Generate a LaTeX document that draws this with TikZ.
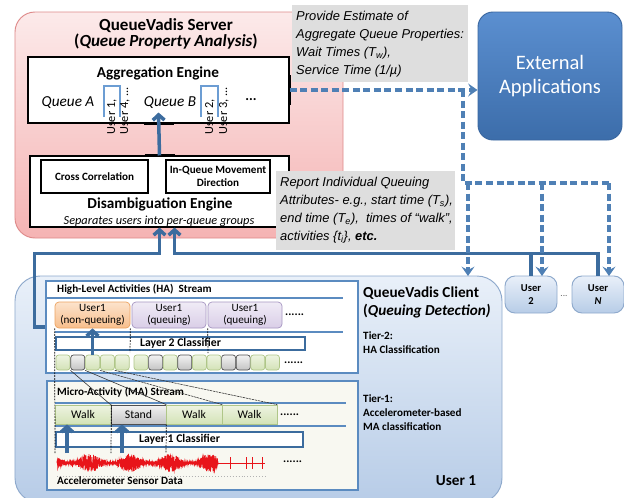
\documentclass[tikz,border=0pt]{standalone}
\usepackage{fontspec}
\setmainfont{Carlito}
\newfontfamily\notefont{Liberation Sans}
\usetikzlibrary{arrows.meta}

\definecolor{qvBlue}{HTML}{3C6C9E}
\definecolor{qvDash}{HTML}{4F80B5}
\definecolor{qvLine}{HTML}{5B8BC0}
\definecolor{qvBracket}{HTML}{6C9DD3}
\definecolor{srvTop}{HTML}{FCEAEA}
\definecolor{srvBot}{HTML}{F5B3B3}
\definecolor{srvEdge}{HTML}{DE8A8A}
\definecolor{cliTop}{HTML}{E9F0F9}
\definecolor{cliBot}{HTML}{B7CCE7}
\definecolor{cliEdge}{HTML}{8EA9CC}
\definecolor{extTop}{HTML}{5B8FD0}
\definecolor{extBot}{HTML}{3C6DAA}
\definecolor{extEdge}{HTML}{3A67A0}
\definecolor{noteGray}{HTML}{DEDEDE}
\definecolor{walkTop}{HTML}{EEF4E2}
\definecolor{walkBot}{HTML}{D3E2B6}
\definecolor{walkEdge}{HTML}{AFC688}
\definecolor{stndTop}{HTML}{F2F2F2}
\definecolor{stndBot}{HTML}{C4C4C4}
\definecolor{stndEdge}{HTML}{505050}
\definecolor{nqTop}{HTML}{FCE3CC}
\definecolor{nqBot}{HTML}{F7BE8C}
\definecolor{nqEdge}{HTML}{EDA462}
\definecolor{qTop}{HTML}{F0EBF6}
\definecolor{qBot}{HTML}{D9CEE7}
\definecolor{qEdge}{HTML}{A797C2}
\definecolor{maFill}{HTML}{F8F8F1}
\definecolor{sigRed}{HTML}{E8141A}

\newcommand{\qbox}[7]{
	\pgfmathsetmacro{\QBw}{(#5-#3)*0.03}
	\pgfmathsetmacro{\QBh}{(#6-#4)*0.03}
	\node[#2, minimum width=\QBw cm, minimum height=\QBh cm] (#1) at ({(#3+#5)/2}, {(#4+#6)/2}) {#7};
}

\begin{document}
\begin{tikzpicture}[x=0.03cm, y=-0.03cm,
	srvbox/.style={draw=srvEdge, line width=0.8pt, rounded corners=0.6cm, top color=srvTop, bottom color=srvBot},
	enginebox/.style={draw=black, line width=0.9pt, fill=white, inner sep=0pt},
	subbox/.style={draw=black, line width=1.1pt, fill=white, inner sep=0pt, align=center, font=\bfseries\fontsize{9.5}{11}\selectfont},
	notebox/.style={fill=noteGray, inner sep=0pt},
	notetext/.style={anchor=north west, inner sep=0pt, align=left, font=\notefont\itshape\fontsize{11}{15.4}\selectfont},
	extbox/.style={draw=extEdge, line width=0.8pt, rounded corners=0.45cm, top color=extTop, bottom color=extBot, text=white, align=center, font=\fontsize{17.5}{21}\selectfont},
	clibox/.style={draw=cliEdge, line width=0.8pt, rounded corners=0.75cm, top color=cliTop, bottom color=cliBot},
	userbox/.style={draw=cliEdge, line width=0.8pt, rounded corners=0.3cm, top color=cliTop, bottom color=cliBot, inner sep=0pt, align=center, font=\bfseries\fontsize{9}{11}\selectfont},
	hapanel/.style={draw=qvLine, line width=1pt, fill=white},
	mapanel/.style={draw=qvLine, line width=1pt, fill=maFill},
	nqbox/.style={draw=nqEdge, line width=0.6pt, rounded corners=0.12cm, top color=nqTop, bottom color=nqBot, inner sep=0pt, align=center, font=\fontsize{9.5}{10}\selectfont},
	queuingbox/.style={draw=qEdge, line width=0.6pt, rounded corners=0.12cm, top color=qTop, bottom color=qBot, inner sep=0pt, align=center, font=\fontsize{9.5}{10}\selectfont},
	walkbox/.style={draw=walkEdge, line width=0.6pt, top color=walkTop, bottom color=walkBot, inner sep=0pt, font=\fontsize{10}{12}\selectfont},
	stndbox/.style={draw=stndEdge, line width=0.6pt, top color=stndTop, bottom color=stndBot, inner sep=0pt, font=\fontsize{10}{12}\selectfont},
	classbox/.style={draw=qvBlue, line width=1.6pt, fill=white, inner sep=0pt, font=\bfseries\fontsize{10}{12}\selectfont},
	sqbox/.style={line width=0.6pt, rounded corners=0.08cm, inner sep=0pt},
	streamline/.style={qvLine, line width=1.6pt},
	qvarrow/.style={qvBlue, line width=3pt, -{Straight Barb[length=4.5pt, width=10pt]}},
	qvline/.style={qvBlue, line width=3pt},
	qvdash/.style={qvDash, line width=2.7pt, dash pattern=on 6pt off 3pt},
	qvdasharrow/.style={qvdash, -{Stealth[length=8pt, width=11pt, inset=3pt]}},
	glue/.style={black, line width=2pt},
	bracket/.style={qvBracket, line width=1.3pt},
	guide/.style={black, line width=0.6pt, dash pattern=on 1.5pt off 1pt},
	link/.style={black!80, line width=0.5pt},
	ttl/.style={align=center, font=\bfseries\fontsize{14.5}{14}\selectfont},
	engttl/.style={font=\bfseries\fontsize{13}{14}\selectfont},
	queuelbl/.style={font=\itshape\fontsize{13}{14}\selectfont},
	userlbl/.style={rotate=90, anchor=west, inner sep=0pt, font=\fontsize{10.5}{11}\selectfont},
	streamttl/.style={anchor=west, inner sep=0pt, font=\bfseries\fontsize{9.5}{11}\selectfont},
	dotslbl/.style={anchor=west, inner sep=0pt, font=\bfseries\fontsize{10}{12}\selectfont},
	lbl/.style={anchor=west, inner sep=0pt, font=\bfseries\fontsize{9.5}{11}\selectfont},
	clittl/.style={anchor=west, inner sep=0pt, font=\bfseries\fontsize{13}{14}\selectfont}]
\useasboundingbox (0,0) rectangle (624,497);

\qbox{srv}{srvbox}{15}{12}{343}{238}{}
\node[ttl] (srvttl) at (166,34) {QueueVadis Server\\(\textit{Queue Property Analysis})};

\qbox{agg}{enginebox}{28}{57}{289}{123}{}
\node[engttl] (aggttl) at (158,73) {Aggregation Engine};
\node[queuelbl] (qa) at (68,103) {Queue A};
\node[queuelbl] (qb) at (170,103) {Queue B};
\draw[bracket] (104,117) -- (104,86) -- (120,86) -- (120,117);
\draw[bracket] (201,117) -- (201,86) -- (218,86) -- (218,117);
\node[userlbl] (ua1) at (112,135) {User 1,};
\node[userlbl] (ua2) at (125,135) {User 4, ...};
\node[userlbl] (ub1) at (210,135) {User 2,};
\node[userlbl] (ub2) at (224,135) {User 3, ...};
\node[font=\bfseries\fontsize{12}{12}\selectfont] (qdots) at (251,100) {...};

\qbox{dis}{enginebox}{30}{156}{289}{227}{}
\qbox{cc}{subbox}{41}{160}{148}{193}{Cross Correlation}
\qbox{iqm}{subbox}{166}{160}{270}{193}{In-Queue Movement\\Direction}
\node[engttl] (disttl) at (160,204) {Disambiguation Engine};
\node[font=\itshape\fontsize{10.5}{12}\selectfont] (dissub) at (159,221) {Separates users into per-queue groups};

\draw[glue] ([xshift=-0.45cm]agg.south) -- ([xshift=0.45cm]agg.south);
\draw[glue] ([xshift=-0.45cm]dis.north) -- ([xshift=0.45cm]dis.north);
\draw[qvarrow] (dis.north) -- ([yshift=0.33cm]agg.south);
\draw[glue] ([yshift=0.45cm]agg.east) -- ([yshift=-0.45cm]agg.east);

\qbox{est}{notebox}{292}{5}{468}{82}{}
\node[notetext] (esttxt) at (296,11) {Provide Estimate of\\Aggregate Queue Properties:\\Wait Times (T\textsubscript{w}),\\Service Time (1/µ)};
\qbox{rep}{notebox}{276}{171}{455}{250}{}
\node[notetext] (reptxt) at (280,177) {Report Individual Queuing\\Attributes- e.g., start time (T\textsubscript{s}),\\end time (T\textsubscript{e}),~ times of “walk”,\\activities \{t\textsubscript{i}\}, \textbf{etc.}};

\qbox{ext}{extbox}{478}{12}{622}{140}{External\\Applications}

\qbox{cli}{clibox}{15}{276}{502}{503}{}

\qbox{ha}{hapanel}{46}{281}{358}{373}{}
\node[streamttl] (hattl) at (57,289) {High-Level Activities (HA)~ Stream};
\draw[streamline] (46,298) -- (343,298);
\qbox{hu1}{nqbox}{55}{302}{130}{328}{User1\\(non-queuing)}
\qbox{hu2}{queuingbox}{132}{302}{206}{328}{User1\\(queuing)}
\qbox{hu3}{queuingbox}{208}{302}{282}{328}{User1\\(queuing)}
\node[dotslbl] (hudots) at (285,315) {......};
\draw[streamline] (55,332) -- (343,332);
\qbox{l2}{classbox}{56}{337}{305}{350}{Layer 2 Classifier}
\foreach \sx/\sc [count=\k] in {56/walk,70.8/stnd,85.6/walk,100.4/walk,115.2/walk,134/walk,148.6/stnd,163.2/walk,177.8/stnd,192.4/walk,207/walk,221.6/stnd,236.2/stnd,250.8/walk,265.4/walk}{
	\qbox{sq\k}{sqbox, draw=\sc Edge, top color=\sc Top, bottom color=\sc Bot}{\sx}{355}{\sx+14}{370}{}
}
\node[dotslbl] (sqdots) at (284,363) {......};
\draw[qvarrow] (sq3.north -| hu1.south) -- (hu1.south);

\qbox{ma}{mapanel}{47}{381}{358}{490}{}
\node[streamttl] (mattl) at (57,392) {Micro-Activity (MA) Stream};
\draw[streamline] (55,403) -- (346,403);
\qbox{w1}{walkbox}{55}{405}{111}{424}{Walk}
\qbox{w2}{stndbox}{111}{405}{166}{424}{Stand}
\qbox{w3}{walkbox}{166}{405}{222}{424}{Walk}
\qbox{w4}{walkbox}{222}{405}{277}{424}{Walk}
\node[dotslbl] (wdots) at (280,415) {......};
\draw[streamline] (55,426) -- (346,426);
\qbox{l1}{classbox}{56}{432}{303}{447}{Layer 1 Classifier}

\draw[guide] (hu1.south west) -- (55,453);
\draw[guide] (hu1.south east) -- (130,352);
\draw[guide] (hu3.south west) -- (208,353);
\draw[guide] (w1.north east) -- (111,453);
\draw[guide] (w2.south east) -- (166,453);
\draw[link] (sq2.south west) -- (w2.north west);
\draw[link] (sq2.south east) -- (w2.north east);
\draw[link, dash pattern=on 2pt off 0.6pt] (sq3.south east) -- (w3.north east);
\draw[link, dash pattern=on 2pt off 0.6pt] (sq4.south east) -- (w4.north east);

\pgfmathsetseed{11}
\draw[sigRed, line width=0.6pt] plot[domain=57:218, samples=1400] (\x, {463 + (5+4*sin(\x*9))*rand});
\draw[sigRed, line width=0.5pt] (218,463) -- (265,463);
\foreach \spk in {230,246,252,262}{
	\draw[sigRed, line width=0.5pt] (\spk,457) -- (\spk,469);
}
\draw[black!30, line width=0.3pt, dash pattern=on 0.5pt off 2pt] (57,476) -- (265,476);
\node[dotslbl] (sigdots) at (283,462) {......};
\coordinate (sa) at (67,453);
\coordinate (sb) at (122,453);
\draw[qvarrow] (sa) -- (sa |- w1.south);
\draw[qvarrow] (sb) -- (sb |- w2.south);
\node[lbl] (acc) at (57,481) {Accelerometer Sensor Data};

\node[clittl] (clittl) at (363,293) {QueueVadis Client};
\node[clittl] (clisub) at (363,311) {(\textit{Queuing Detection)}};
\node[lbl, align=left, font=\bfseries\fontsize{9.5}{12}\selectfont] (tier2) at (363,343) {Tier-2:\\HA Classification};
\node[lbl, align=left, font=\bfseries\fontsize{9.5}{12}\selectfont] (tier1) at (363,413) {Tier-1:\\Accelerometer-based\\MA classification};
\node[font=\bfseries\fontsize{13}{14}\selectfont] (u1lbl) at (456,481) {User 1};

\qbox{usr2}{userbox}{505}{276}{557}{313}{User\\2}
\qbox{usrN}{userbox}{572}{276}{624}{313}{User\\\textit{N}}
\node[font=\fontsize{8}{8}\selectfont, text=black!60] (udots) at (564,296) {...};

\draw[qvarrow] (ha.west) -- ++(-11,0) |- ([yshift=-0.78cm]dis.south) -- (dis.south);
\draw[qvarrow] (usrN.north) |- ([xshift=0.45cm, yshift=-0.78cm]dis.south) -- ([xshift=0.45cm]dis.south);
\draw[qvline] (usr2.north) -- ++(0,-23);

\draw[qvdasharrow] (agg.east) -- (ext.west |- agg.east);
\coordinate (dsplit) at (463,90);
\coordinate (dbus) at (463,183);
\coordinate (cliin) at (468,276);
\coordinate (u2in) at (542,276);
\coordinate (uNin) at (609,276);
\draw[qvdash] (dsplit) -- (dbus) -- (uNin |- dbus);
\draw[qvdasharrow] (cliin |- dbus) -- (cliin);
\draw[qvdasharrow] (u2in |- dbus) -- (u2in);
\draw[qvdasharrow] (uNin |- dbus) -- (uNin);
\end{tikzpicture}
\end{document}
